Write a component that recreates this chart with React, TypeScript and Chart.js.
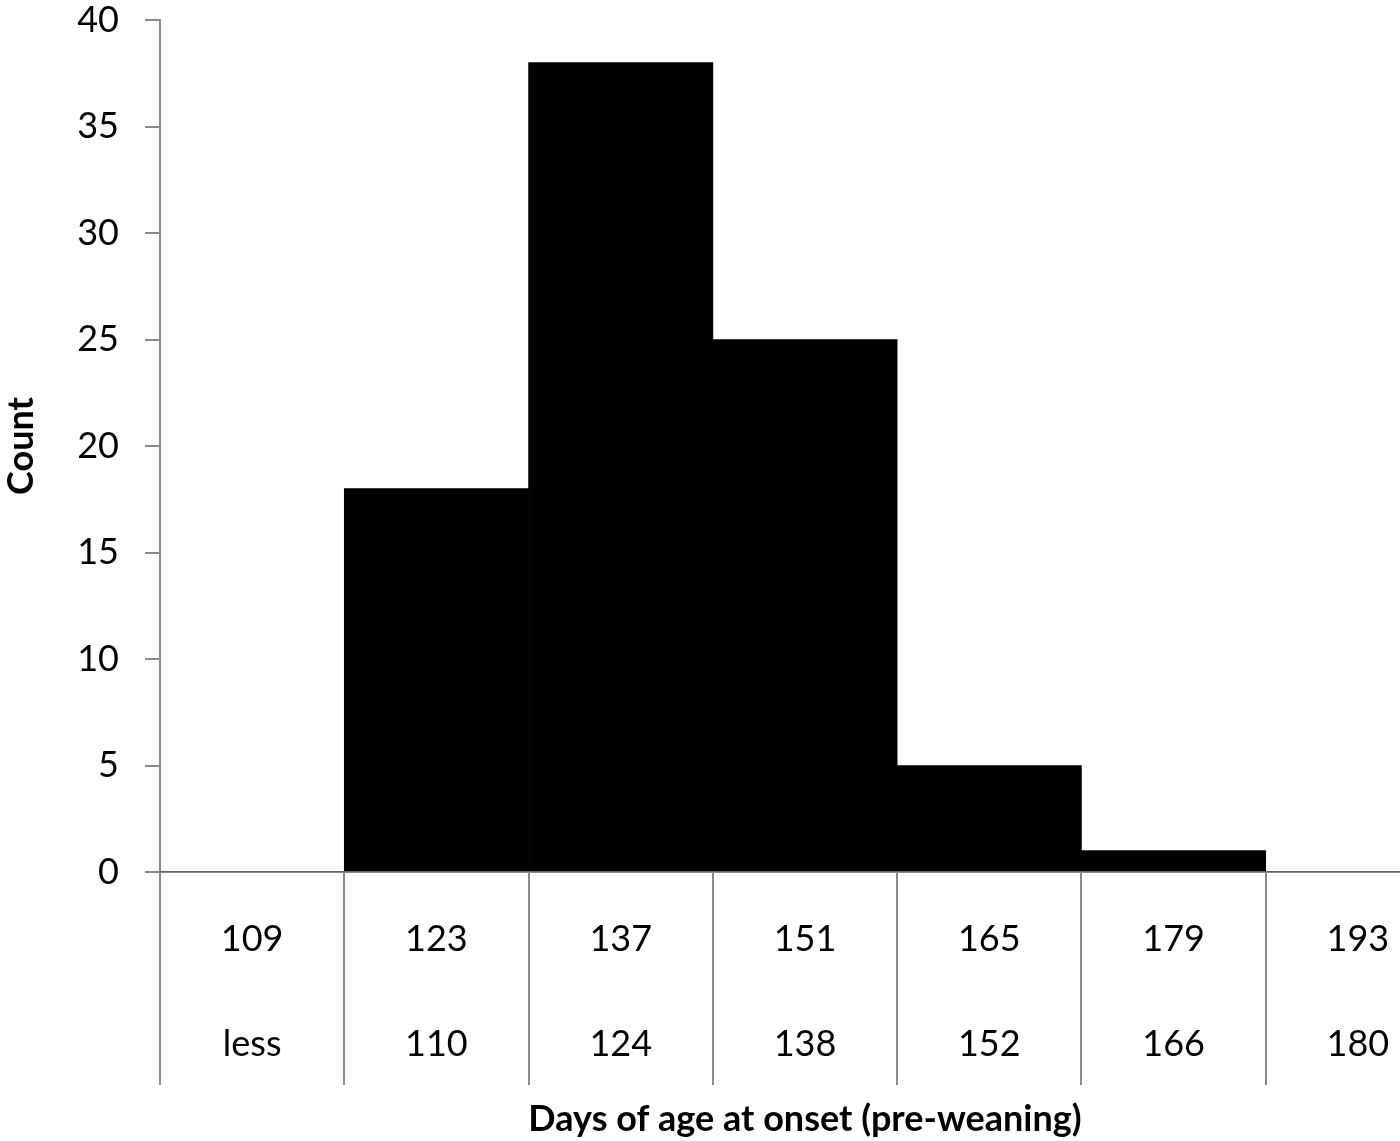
import React, { useEffect, useRef } from "react";
import { Chart, registerables } from "chart.js";

Chart.register(...registerables);

const upperLabels = ["109", "123", "137", "151", "165", "179", "193"];
const lowerLabels = ["less", "110", "124", "138", "152", "166", "180"];
const counts = [0, 18, 38, 25, 5, 1, 0];
const yTitle = "Count";
const xTitle = "Days of age at onset (pre-weaning)";

const FONT = "Lato, 'Open Sans', sans-serif";
const GRAY = "#8a8a8a";

export default function App() {
  const ref = useRef<HTMLCanvasElement | null>(null);
  useEffect(() => {
    if (!ref.current) return;
    const labels = upperLabels.map((u, i) => [u, lowerLabels[i]]);
    const chart = new Chart(ref.current, {
      type: "bar",
      data: {
        labels,
        datasets: [
          {
            data: counts,
            backgroundColor: "#000000",
            borderWidth: 0,
            barPercentage: 1,
            categoryPercentage: 1,
          },
        ],
      },
      options: {
        responsive: false,
        animation: false,
        layout: { padding: { top: 0, left: 0, right: 0, bottom: 0 } },
        plugins: { legend: { display: false }, tooltip: { enabled: false } },
        scales: {
          x: {
            offset: true,
            grid: {
              offset: true,
              drawOnChartArea: false,
              drawTicks: true,
              tickLength: 213,
              color: GRAY,
              lineWidth: 2,
            },
            border: { color: GRAY, width: 2 },
            ticks: {
              color: "#000",
              font: { family: FONT, size: 36, lineHeight: 105 / 36 },
              padding: -198.5,
              maxRotation: 0,
              autoSkip: false,
            },
            title: {
              display: true,
              text: xTitle,
              color: "#000",
              font: { family: FONT, size: 36, weight: "bold", lineHeight: 1.2 },
              padding: { top: 0, bottom: 0 },
            },
            afterFit: (scale: any) => {
              scale.height = 1141 - 872;
              scale.paddingLeft = 0;
              scale.paddingRight = 0;
            },
          },
          y: {
            min: 0,
            max: 40,
            grid: {
              drawOnChartArea: false,
              drawTicks: true,
              tickLength: 15,
              color: GRAY,
              lineWidth: 2,
            },
            border: { color: GRAY, width: 2 },
            ticks: {
              stepSize: 5,
              color: "#000",
              font: { family: FONT, size: 36, lineHeight: 1 },
              padding: 26,
            },
            title: {
              display: true,
              text: yTitle,
              color: "#000",
              font: { family: FONT, size: 36, weight: "bold", lineHeight: 1.2 },
              padding: 0,
            },
            afterFit: (scale: any) => {
              scale.width = 160;
              scale.paddingTop = 20;
              scale.paddingBottom = 0;
            },
          },
        },
      },
    });
    return () => chart.destroy();
  }, []);
  return (
    <div
      style={{
        position: "fixed",
        left: 0,
        top: 0,
        width: 1400,
        height: 1141,
        overflow: "hidden",
        background: "#fff",
      }}
    >
      <canvas ref={ref} width={1450} height={1141} style={{ display: "block" }} />
    </div>
  );
}
